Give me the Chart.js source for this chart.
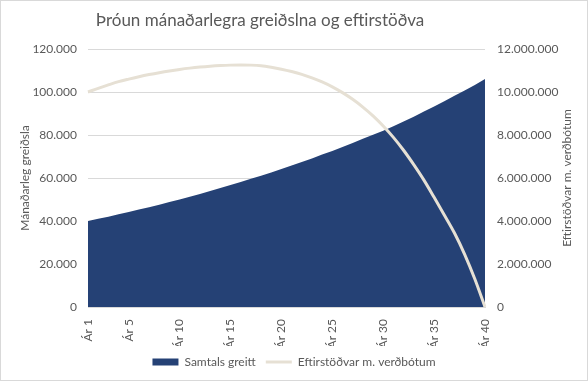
<!DOCTYPE html>
<html>
<head>
<meta charset="utf-8">
<script src="https://cdn.jsdelivr.net/npm/chart.js@4"></script>
<style>
  body { margin: 0; background: #fff; }
  #wrap { width: 588px; height: 381px; box-sizing: border-box; border: 1px solid #d9d9d9; }
</style>
</head>
<body>
<div id="wrap"><canvas id="chart" width="586" height="379"></canvas></div>
<script>
var years = [];
for (var i = 1; i <= 40; i++) years.push('Ár ' + i);
var shownYears = ['Ár 1', 'Ár 5', 'Ár 10', 'Ár 15', 'Ár 20', 'Ár 25', 'Ár 30', 'Ár 35', 'Ár 40'];

// Samtals greitt (left axis)
var paid = [40000, 41000, 42000, 43100, 44200, 45300, 46400, 47600, 48800, 50000,
            51300, 52600, 53900, 55300, 56700, 58100, 59600, 61100, 62600, 64200,
            65800, 67400, 69100, 70900, 72600, 74400, 76300, 78200, 80100, 82000,
            84100, 86300, 88500, 90900, 93300, 95700, 98200, 100700, 103300, 106000];

// Eftirstöðvar m. verðbótum (right axis)
var remaining = [10000000, 10170000, 10330000, 10480000, 10600000, 10710000, 10810000, 10900000, 10980000, 11050000,
                 11110000, 11160000, 11200000, 11230000, 11250000, 11260000, 11250000, 11220000, 11150000, 11060000,
                 10950000, 10820000, 10660000, 10470000, 10240000, 9970000, 9660000, 9300000, 8890000, 8420000,
                 7890000, 7290000, 6620000, 5900000, 5100000, 4280000, 3440000, 2450000, 1300000, 0];

var font = 'Lato, "Liberation Sans", sans-serif';
var grey = '#595959';
var titleText = 'Þróun mánaðarlegra greiðslna og eftirstöðva';

function dots(v) {
  return String(v).replace(/\B(?=(\d{3})+(?!\d))/g, '.');
}

// title sits left of centre in the original, and the right axis title reads bottom-to-top
var extraText = {
  id: 'extraText',
  afterDraw: function (chart) {
    var ctx = chart.ctx;
    var a = chart.chartArea;
    ctx.save();
    ctx.fillStyle = grey;
    ctx.textAlign = 'center';
    ctx.textBaseline = 'middle';
    ctx.font = '17px ' + font;
    ctx.fillText(titleText, 259, 20);
    ctx.translate(566, (a.top + a.bottom) / 2);
    ctx.rotate(-Math.PI / 2);
    ctx.font = '12px ' + font;
    ctx.fillText('Eftirstöðvar m. verðbótum', 0, 0);
    ctx.restore();
  }
};

var ctx = document.getElementById('chart').getContext('2d');
var myChart = new Chart(ctx, {
  type: 'line',
  data: {
    labels: years,
    datasets: [{
      label: 'Samtals greitt',
      data: paid,
      yAxisID: 'y',
      backgroundColor: '#254175',
      borderColor: '#254175',
      borderWidth: 0,
      fill: 'origin',
      pointRadius: 0,
      pointStyle: 'rect',
      order: 2
    }, {
      label: 'Eftirstöðvar m. verðbótum',
      data: remaining,
      yAxisID: 'y1',
      borderColor: '#e6e0d4',
      backgroundColor: '#e6e0d4',
      borderWidth: 3,
      fill: false,
      pointRadius: 0,
      pointStyle: 'line',
      cubicInterpolationMode: 'monotone',
      order: 1
    }]
  },
  options: {
    responsive: false,
    animation: false,
    layout: { padding: { left: 0, right: 0, top: 48, bottom: 2 } },
    plugins: {
      title: { display: false },
      legend: {
        position: 'bottom',
        labels: {
          color: grey,
          font: { family: font, size: 12 },
          usePointStyle: true,
          pointStyleWidth: 26,
          boxHeight: 7,
          padding: 10,
          sort: function (a, b) { return a.datasetIndex - b.datasetIndex; }
        }
      },
      tooltip: { enabled: false }
    },
    scales: {
      x: {
        grid: { display: false },
        border: { display: true, color: '#d9d9d9' },
        ticks: {
          color: grey,
          font: { family: font, size: 12 },
          autoSkip: false,
          minRotation: 90,
          maxRotation: 90,
          padding: 4,
          callback: function (v, i) {
            var l = this.getLabelForValue(v);
            return shownYears.indexOf(l) >= 0 ? l : '';
          }
        },
        afterFit: function (s) { s.height = 39; }
      },
      y: {
        position: 'left',
        min: 0,
        max: 120000,
        grid: { color: '#d9d9d9', drawTicks: false },
        border: { display: false },
        ticks: {
          stepSize: 20000,
          color: grey,
          font: { family: font, size: 12 },
          padding: 11,
          callback: function (v) { return dots(v); }
        },
        title: {
          display: true,
          text: 'Mánaðarleg greiðsla',
          color: grey,
          font: { family: font, size: 12 },
          padding: { top: 17 }
        },
        afterFit: function (s) { s.width = 87; }
      },
      y1: {
        position: 'right',
        min: 0,
        max: 12000000,
        grid: { display: false, drawTicks: false },
        border: { display: false },
        ticks: {
          stepSize: 2000000,
          color: grey,
          font: { family: font, size: 12 },
          padding: 12,
          callback: function (v) { return dots(v); }
        },
        afterFit: function (s) { s.width = 102; }
      }
    }
  },
  plugins: [extraText]
});
</script>
</body>
</html>
